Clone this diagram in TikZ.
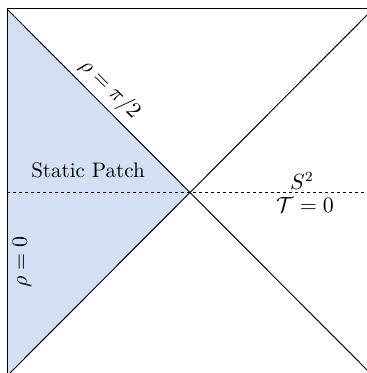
\documentclass[tikz,border=0pt]{standalone}
\definecolor{patch}{RGB}{211,224,243}
\begin{document}
\begin{tikzpicture}[x=0.5pt,y=-0.5pt,
  edge/.style={black,line width=0.5pt},
  horizon/.style={black,line width=0.5pt,dash pattern=on 1.5pt off 1.5pt},
  lab/.style={inner sep=0pt,font=\fontsize{10.5pt}{12pt}\selectfont}]
\clip (0,0) rectangle (367,373);
\coordinate (tl) at (7,9);
\coordinate (tr) at (373,9);
\coordinate (bl) at (7,376);
\coordinate (br) at (373,376);
\coordinate (c) at (190,192.5);
\coordinate (hl) at (7,192.5);
\coordinate (hr) at (373,192.5);
\fill[patch] (tl) -- (c) -- (bl) -- cycle;
\draw[edge] (tl) rectangle (br);
\draw[edge] (tl) -- (br);
\draw[edge] (bl) -- (tr);
\draw[horizon] (hl) -- (hr);
\node[lab] (sp) at (88,170) {Static Patch};
\node[lab,rotate=-45] (rh) at (110,89) {$\rho=\pi/2$};
\node[lab,rotate=90] (r0) at (22,262) {$\rho=0$};
\node[lab] (s2) at (302,181) {$S^2$};
\node[lab] (t0) at (305,205) {$\mathcal{T}=0$};
\end{tikzpicture}
\end{document}
